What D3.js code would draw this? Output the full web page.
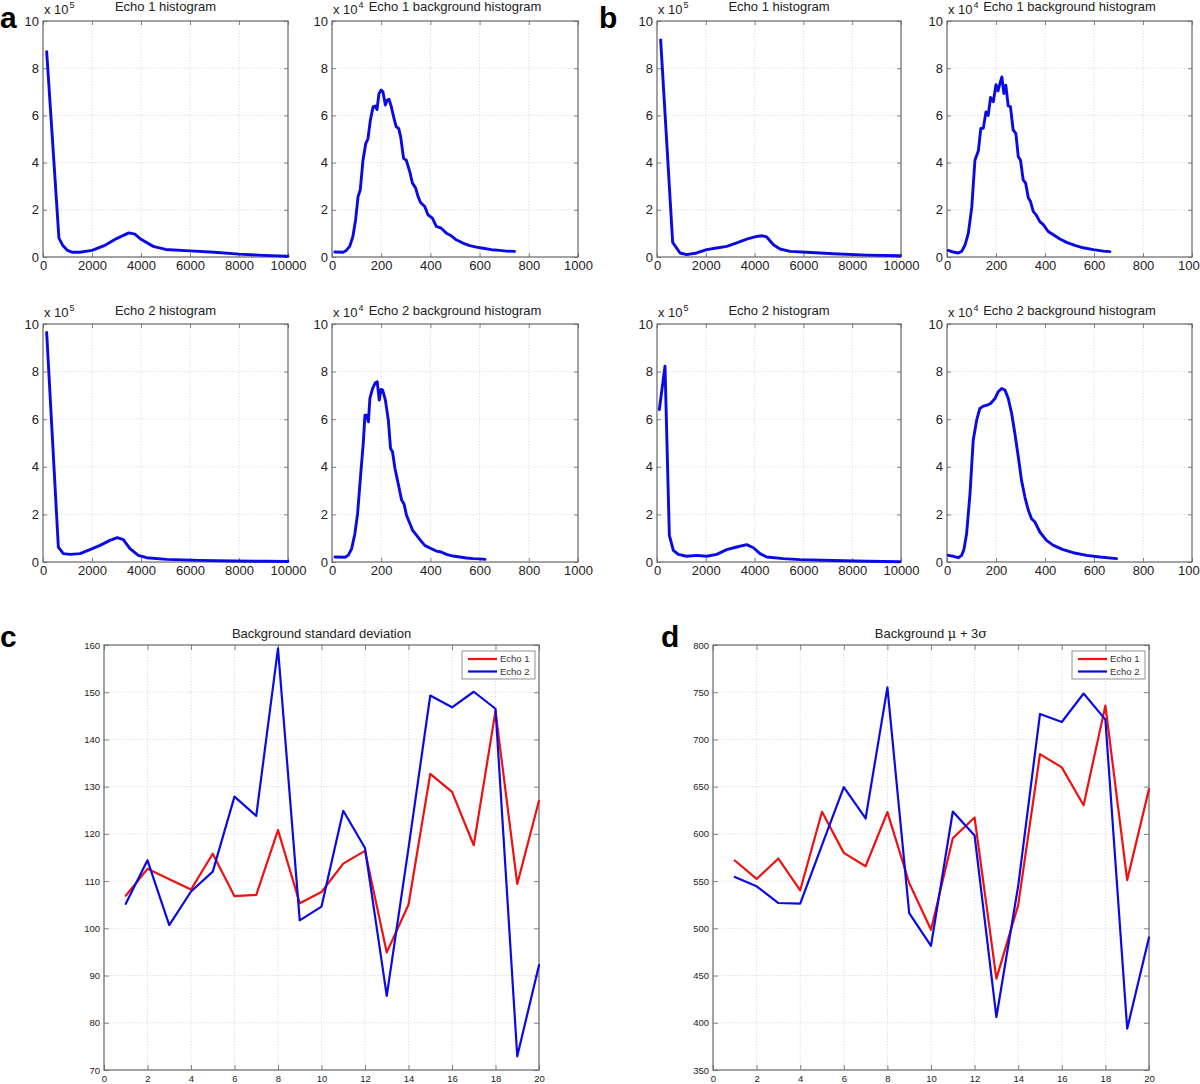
<!DOCTYPE html>
<html><head><meta charset="utf-8">
<script src="https://cdn.jsdelivr.net/npm/d3@7"></script>
<style>body{margin:0;background:#fff}svg{display:block}</style>
</head><body>
<svg id="fig" width="1200" height="1084"></svg>
<script>
// ---------- DATA ----------
const histTicks = [0,2000,4000,6000,8000,10000];
const bgTicks = [0,200,400,600,800,1000];
const histYTicks = [0,2,4,6,8,10];
const seqTicks = [0,2,4,6,8,10,12,14,16,18,20];
const sdTicks = [70,80,90,100,110,120,130,140,150,160];
const mu3Ticks = [350,400,450,500,550,600,650,700,750,800];

// panel a
const aEcho1Hist = [[150,8.7],[650,0.8],[800,0.5],[1000,0.28],[1200,0.2],[1500,0.2],[2000,0.28],[2500,0.48],[3000,0.78],[3500,1.02],[3750,0.97],[4000,0.75],[4500,0.45],[5000,0.32],[6000,0.26],[7000,0.2],[8000,0.12],[9000,0.07],[10000,0.03]];
const aEcho1Bg = [[11,0.21],[45,0.2],[58,0.28],[72,0.45],[85,0.87],[96,1.58],[106,2.56],[115,2.85],[126,4.1],[137,4.8],[146,5.0],[156,5.8],[167,6.36],[175,6.4],[183,6.25],[191,6.93],[200,7.07],[207,7.0],[217,6.44],[225,6.65],[232,6.68],[241,6.37],[252,5.87],[261,5.52],[271,5.45],[279,5.1],[291,4.18],[302,4.1],[316,3.62],[327,3.13],[340,2.92],[350,2.56],[360,2.31],[377,2.14],[390,1.79],[408,1.65],[424,1.3],[444,1.22],[465,1.01],[485,0.9],[505,0.73],[532,0.59],[560,0.48],[587,0.42],[614,0.37],[648,0.31],[682,0.28],[709,0.25],[742,0.24]];
const aEcho2Hist = [[150,9.64],[626,0.63],[830,0.35],[1102,0.32],[1510,0.35],[1918,0.52],[2326,0.7],[2734,0.91],[3033,1.02],[3278,0.94],[3550,0.56],[3890,0.28],[4230,0.18],[5046,0.11],[6406,0.07],[7766,0.04],[9126,0.03],[10000,0.02]];
const aEcho2Bg = [[12,0.21],[53,0.2],[66,0.28],[80,0.56],[93,1.19],[104,2.03],[117,3.72],[127,4.98],[134,6.17],[141,6.17],[148,5.89],[154,6.87],[165,7.29],[176,7.53],[184,7.57],[192,6.8],[199,7.25],[206,7.22],[217,6.8],[229,5.96],[238,4.77],[246,4.63],[256,3.93],[269,3.3],[283,2.6],[293,2.43],[303,1.96],[317,1.61],[328,1.33],[344,1.12],[360,0.91],[377,0.7],[398,0.59],[424,0.46],[444,0.42],[465,0.32],[492,0.25],[519,0.21],[547,0.17],[574,0.14],[601,0.13],[622,0.11]];

// panel b
const bEcho1Hist = [[150,9.2],[643,0.62],[943,0.17],[1216,0.1],[1626,0.17],[2036,0.31],[2446,0.38],[2857,0.45],[3267,0.6],[3677,0.76],[4087,0.87],[4292,0.9],[4497,0.85],[4770,0.52],[5043,0.34],[5453,0.24],[6137,0.2],[7230,0.14],[8597,0.08],[9960,0.05]];
const bEcho1Bg = [[5,0.28],[26,0.21],[46,0.17],[60,0.24],[74,0.52],[87,1.0],[101,2.1],[114,4.1],[128,4.5],[138,5.45],[148,5.45],[159,6.15],[168,6.0],[178,6.76],[189,6.58],[200,7.3],[208,7.04],[216,7.35],[224,7.63],[232,6.93],[240,7.28],[250,6.4],[259,6.37],[270,5.38],[281,5.24],[291,4.25],[300,4.1],[311,3.27],[321,3.13],[332,2.5],[341,2.35],[352,1.93],[366,1.75],[379,1.5],[393,1.37],[413,1.08],[434,0.94],[461,0.76],[488,0.62],[522,0.49],[556,0.39],[597,0.31],[638,0.25],[665,0.23]];
const bEcho2Hist = [[96,6.41],[328,8.23],[506,1.12],[670,0.49],[875,0.32],[1216,0.24],[1626,0.28],[2036,0.24],[2446,0.32],[2857,0.52],[3267,0.63],[3677,0.73],[3950,0.6],[4223,0.35],[4497,0.21],[5180,0.14],[5863,0.1],[7230,0.06],[8597,0.03],[9960,0.01]];
const bEcho2Bg = [[5,0.28],[26,0.24],[46,0.18],[60,0.28],[69,0.52],[80,1.19],[94,2.88],[107,5.12],[121,5.96],[134,6.45],[148,6.55],[164,6.59],[178,6.66],[196,6.87],[209,7.15],[223,7.29],[237,7.22],[250,6.87],[264,6.24],[277,5.4],[291,4.42],[304,3.44],[318,2.73],[332,2.17],[345,1.82],[359,1.68],[379,1.26],[406,0.91],[434,0.7],[474,0.52],[515,0.39],[570,0.28],[624,0.21],[692,0.14]];

// panel c / d
const runs = [1,2,3,4,5,6,7,8,9,10,11,12,13,14,15,16,17,18,19,20];
const sdEcho1 = [106.9,112.6,110.4,108.2,115.8,106.8,107.1,120.8,105.3,107.7,113.7,116.4,94.9,105.0,132.7,128.9,117.6,146.0,109.4,127.0];
const sdEcho2 = [105.2,114.4,100.7,107.8,112.0,127.9,123.8,159.3,101.7,104.6,124.9,117.0,85.7,117.0,149.3,146.8,150.1,146.5,72.9,92.2];
const muEcho1 = [571.8,552.3,573.9,540.3,623.4,579.9,565.7,623.1,548,498.5,595.4,617.3,446.7,524.6,684.5,670.4,630.4,735.8,551.1,647.4];
const muEcho2 = [554.4,544.5,526.8,526.1,588,649.6,616.3,755.1,516.2,481.5,623.7,598.2,406.1,545,727,718.5,748.6,721,393.7,490.3];
const legendLabels = ["Echo 1","Echo 2"];

// ---------- DRAW ----------
const svg = d3.select("#fig");
const FONT = "'Liberation Sans', Arial, Helvetica, sans-serif";
const BLUE = "#0a0ae6", RED = "#f01010";
const fmt = d3.format("d");

function panel(o){
  const g = svg.append("g");
  const x = d3.scaleLinear().domain(o.xd).range([o.box[0], o.box[1]]);
  const y = d3.scaleLinear().domain(o.yd).range([o.box[3], o.box[2]]);
  const fs = o.fs;
  // grid
  g.append("g").selectAll("line").data(o.xt.slice(1,-1)).join("line")
    .attr("x1", d=>x(d)).attr("x2", d=>x(d)).attr("y1", o.box[2]).attr("y2", o.box[3])
    .attr("stroke","#dadada").attr("stroke-width",0.8).attr("stroke-dasharray","1.5,1.5");
  g.append("g").selectAll("line").data(o.yt.slice(1,-1)).join("line")
    .attr("y1", d=>y(d)).attr("y2", d=>y(d)).attr("x1", o.box[0]).attr("x2", o.box[1])
    .attr("stroke","#dadada").attr("stroke-width",0.8).attr("stroke-dasharray","1.5,1.5");
  // axes with inward ticks
  const tl = o.tick || 4;
  const ax = [
    [d3.axisBottom(x).tickValues(o.xt).tickSize(-tl).tickPadding(o.xpad||5).tickFormat(fmt), o.box[3], 0],
    [d3.axisTop(x).tickValues(o.xt).tickSize(-tl).tickFormat(""), o.box[2], 0],
    [d3.axisLeft(y).tickValues(o.yt).tickSize(-tl).tickPadding(o.ypad||4).tickFormat(fmt), 0, o.box[0]],
    [d3.axisRight(y).tickValues(o.yt).tickSize(-tl).tickFormat(""), 0, o.box[1]]
  ];
  ax.forEach(([a, ty, tx])=>{
    const ag = g.append("g").attr("transform",`translate(${tx},${ty})`).call(a);
    ag.select(".domain").remove();
    ag.selectAll("line").attr("stroke","#666").attr("stroke-width",0.8);
    ag.selectAll("text").attr("font-family",FONT).attr("font-size",fs).attr("fill","#222");
  });
  // box
  g.append("rect").attr("x",o.box[0]).attr("y",o.box[2]).attr("width",o.box[1]-o.box[0]).attr("height",o.box[3]-o.box[2])
    .attr("fill","none").attr("stroke","#666").attr("stroke-width",1.2);
  // series
  const line = d3.line().x(d=>x(d[0])).y(d=>y(d[1]));
  o.series.forEach(s=>{
    g.append("path").datum(s.data).attr("d",line).attr("fill","none")
      .attr("stroke",s.color).attr("stroke-width",s.w).attr("stroke-linejoin","round").attr("stroke-linecap","round");
  });
  // title
  if(o.title){
    const t = g.append("text").attr("x",(o.box[0]+o.box[1])/2).attr("y",o.titleY)
      .attr("text-anchor","middle").attr("font-family",FONT).attr("font-size",o.tfs).attr("fill","#222");
    o.title.forEach(p=>{
      const ts = t.append("tspan").text(p.t);
      if(p.f) ts.attr("font-family",p.f);
    });
  }
  if(o.exp){
    const t = g.append("text").attr("x",o.box[0]+1).attr("y",o.box[2]-7)
      .attr("font-family",FONT).attr("font-size",13).attr("fill","#222");
    t.append("tspan").text("x 10");
    t.append("tspan").text(o.exp).attr("font-size",9).attr("dy",-6).attr("dx",1);
  }
  return {x,y,g};
}

const histW = 2.9;
const hp = (box, xd, xt, exp, title, titleY, data)=>panel({box, xd, yd:[0,10], xt, yt:histYTicks, fs:13, xpad:4, ypad:4,
  exp, title:[{t:title}], titleY, tfs:13, series:[{data, color:BLUE, w:histW}]});

hp([43,288,21,257],[0,10000],histTicks,"5","Echo 1 histogram",11,aEcho1Hist);
hp([332,578,21,257],[0,1000],bgTicks,"4","Echo 1 background histogram",11,aEcho1Bg);
hp([657,901,21,257],[0,10000],histTicks,"5","Echo 1 histogram",11,bEcho1Hist);
hp([947,1192,21,257],[0,1000],bgTicks,"4","Echo 1 background histogram",11,bEcho1Bg);
hp([43,288,324,562],[0,10000],histTicks,"5","Echo 2 histogram",315,aEcho2Hist);
hp([332,578,324,562],[0,1000],bgTicks,"4","Echo 2 background histogram",315,aEcho2Bg);
hp([657,901,324,562],[0,10000],histTicks,"5","Echo 2 histogram",315,bEcho2Hist);
hp([947,1192,324,562],[0,1000],bgTicks,"4","Echo 2 background histogram",315,bEcho2Bg);

function seqPanel(box, yd, yt, title, e1, e2){
  const p = panel({box, xd:[0,20], yd, xt:seqTicks, yt, fs:9.5, tick:5,
    title, titleY:638, tfs:13,
    series:[{data:runs.map((r,i)=>[r,e1[i]]), color:RED, w:2.2},{data:runs.map((r,i)=>[r,e2[i]]), color:BLUE, w:2.2}]});
  const lx = box[1]-77, ly = box[2]+6;
  const lg = p.g.append("g");
  lg.append("rect").attr("x",lx).attr("y",ly).attr("width",73).attr("height",28)
    .attr("fill","#fff").attr("stroke","#777").attr("stroke-width",0.8);
  [RED,BLUE].forEach((c,i)=>{
    const yy = ly+8+i*12.5;
    lg.append("line").attr("x1",lx+6).attr("x2",lx+35).attr("y1",yy).attr("y2",yy).attr("stroke",c).attr("stroke-width",2.2);
    lg.append("text").attr("x",lx+38).attr("y",yy+3.3).text(legendLabels[i])
      .attr("font-family",FONT).attr("font-size",9.5).attr("fill","#333");
  });
}
seqPanel([104,539,645,1070],[70,160],sdTicks,[{t:"Background standard deviation"}],sdEcho1,sdEcho2);
seqPanel([713,1149,645,1070],[350,800],mu3Ticks,[{t:"Background "},{t:"\u03bc",f:"'DejaVu Serif', serif"},{t:" + 3"},{t:"\u03c3",f:"'DejaVu Serif', serif"}],muEcho1,muEcho2);

// panel letters
[["a",0,28],["b",599,28],["c",0,647],["d",661,647]].forEach(([t,x,y])=>{
  svg.append("text").attr("x",x).attr("y",y).text(t).attr("font-family",FONT)
    .attr("font-weight","bold").attr("font-size",30).attr("fill","#000");
});
</script>
</body></html>
